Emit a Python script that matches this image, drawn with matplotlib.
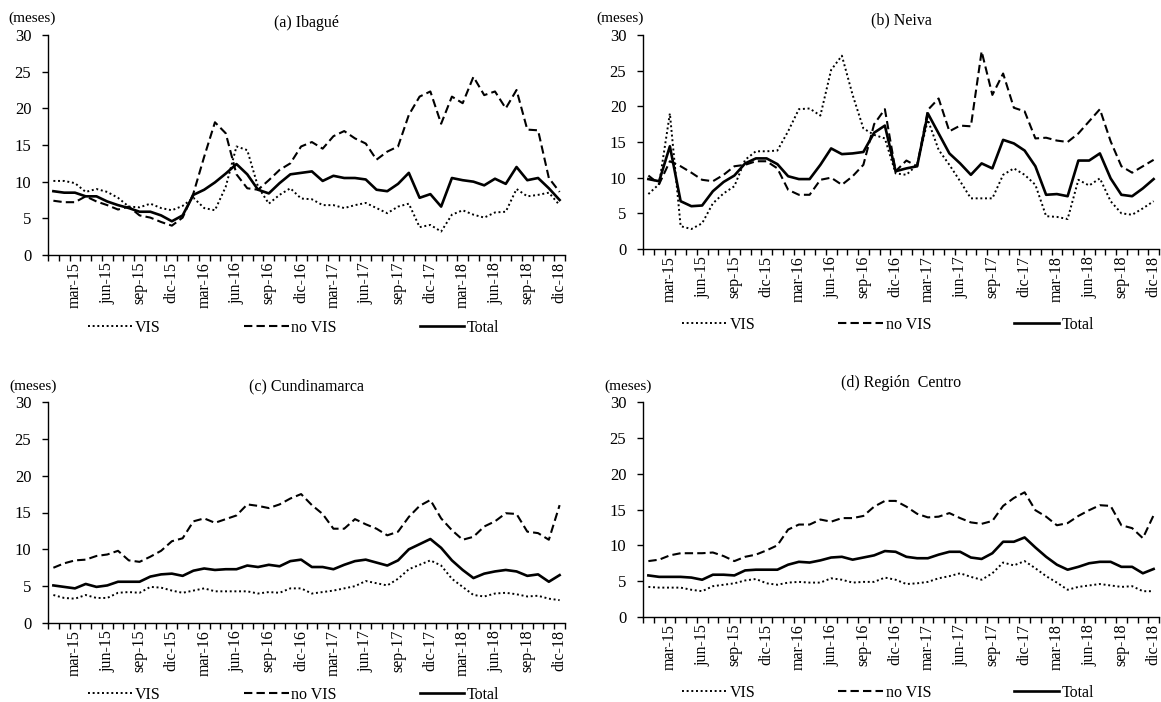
import numpy as np
import matplotlib.pyplot as plt

plt.rcParams['font.family'] = ['Liberation Serif', 'DejaVu Serif']

# meses ene-15 .. dic-18
mes = ['ene', 'feb', 'mar', 'abr', 'may', 'jun', 'jul', 'ago', 'sep', 'oct', 'nov', 'dic']
anios = ['15', '16', '17', '18']
periodos = [m + '-' + a for a in anios for m in mes]

# (a) Ibagué
ibague_vis = [10.1, 10.1, 9.8, 8.6, 9.0, 8.6, 7.8, 6.6, 6.5, 7.0,
              6.4, 6.1, 6.7, 7.8, 6.4, 6.1, 9.3, 14.8, 14.3, 9.3,
              7.0, 8.2, 9.1, 7.7, 7.6, 6.8, 6.8, 6.4, 6.8, 7.1,
              6.4, 5.7, 6.6, 7.0, 3.8, 4.1, 3.2, 5.5, 6.1, 5.5,
              5.1, 5.8, 5.9, 9.0, 8.0, 8.2, 8.5, 6.8]
ibague_novis = [7.4, 7.2, 7.2, 8.0, 7.3, 6.8, 6.2, 6.6, 5.4, 5.1,
                4.5, 4.0, 5.1, 8.4, 13.4, 18.1, 16.6, 11.0, 9.1, 8.9,
                10.2, 11.6, 12.5, 14.8, 15.4, 14.5, 16.2, 16.9, 15.9, 15.2,
                13.0, 14.1, 14.8, 19.1, 21.6, 22.3, 17.9, 21.6, 20.7, 24.3,
                21.8, 22.3, 20.0, 22.5, 17.1, 17.0, 10.5, 8.6]
ibague_total = [8.7, 8.5, 8.5, 8.0, 8.0, 7.3, 6.8, 6.4, 5.9, 5.9,
                5.4, 4.6, 5.4, 8.2, 8.9, 9.9, 11.1, 12.4, 11.0, 8.9,
                8.4, 9.8, 11.0, 11.2, 11.4, 10.1, 10.8, 10.5, 10.5, 10.3,
                8.9, 8.7, 9.7, 11.2, 7.8, 8.3, 6.6, 10.5, 10.2, 10.0,
                9.5, 10.4, 9.7, 12.0, 10.2, 10.5, 9.1, 7.5]

# (b) Neiva
neiva_vis = [7.7, 9.1, 19.0, 3.2, 2.8, 3.6, 6.4, 7.8, 8.8, 12.5,
             13.7, 13.7, 13.8, 16.5, 19.6, 19.7, 18.7, 25.1, 27.1, 21.6,
             16.9, 16.0, 15.5, 10.6, 10.4, 11.8, 18.1, 13.9, 11.8, 9.5,
             7.1, 7.1, 7.1, 10.4, 11.3, 10.4, 9.0, 4.6, 4.5, 4.2,
             9.7, 8.9, 9.9, 6.7, 5.0, 4.8, 5.7, 6.7]
neiva_novis = [10.3, 9.1, 12.3, 11.6, 10.7, 9.7, 9.5, 10.4, 11.6, 11.8,
               12.3, 12.3, 11.3, 8.3, 7.6, 7.6, 9.7, 10.0, 9.0, 10.2,
               11.8, 17.5, 19.6, 10.9, 12.4, 11.6, 19.5, 21.1, 16.5, 17.3,
               17.2, 27.7, 21.6, 24.6, 19.8, 19.3, 15.5, 15.6, 15.2, 15.0,
               16.2, 17.9, 19.6, 15.1, 11.6, 10.7, 11.6, 12.5]
neiva_total = [9.8, 9.5, 14.4, 6.7, 6.0, 6.1, 8.1, 9.4, 10.3, 12.0,
               12.7, 12.7, 11.9, 10.2, 9.8, 9.8, 11.8, 14.1, 13.3, 13.4,
               13.6, 16.3, 17.3, 10.9, 11.3, 11.6, 19.0, 16.2, 13.4, 12.0,
               10.4, 12.0, 11.3, 15.3, 14.8, 13.8, 11.6, 7.6, 7.7, 7.4,
               12.4, 12.4, 13.4, 9.9, 7.6, 7.4, 8.5, 9.8]

# (c) Cundinamarca
cund_vis = [3.8, 3.4, 3.3, 3.8, 3.4, 3.4, 4.1, 4.2, 4.1, 4.9,
            4.8, 4.4, 4.1, 4.4, 4.7, 4.3, 4.3, 4.3, 4.3, 4.0,
            4.2, 4.1, 4.7, 4.7, 4.0, 4.2, 4.4, 4.7, 5.0, 5.7,
            5.4, 5.1, 6.0, 7.3, 7.9, 8.5, 7.8, 6.0, 4.9, 3.8,
            3.6, 4.0, 4.1, 3.9, 3.6, 3.7, 3.3, 3.1]
cund_novis = [7.5, 8.1, 8.5, 8.6, 9.1, 9.3, 9.8, 8.5, 8.3, 9.0,
              9.8, 11.1, 11.5, 13.8, 14.2, 13.6, 14.1, 14.6, 16.1, 15.9,
              15.6, 16.1, 16.9, 17.5, 16.0, 14.8, 12.8, 12.8, 14.1, 13.4,
              12.8, 11.9, 12.4, 14.4, 15.9, 16.7, 14.2, 12.6, 11.3, 11.7,
              13.1, 13.8, 14.9, 14.8, 12.4, 12.2, 11.3, 16.0]
cund_total = [5.1, 4.9, 4.7, 5.3, 4.9, 5.1, 5.6, 5.6, 5.6, 6.3,
              6.6, 6.7, 6.4, 7.1, 7.4, 7.2, 7.3, 7.3, 7.8, 7.6,
              7.9, 7.7, 8.4, 8.6, 7.6, 7.6, 7.3, 7.9, 8.4, 8.6,
              8.2, 7.8, 8.5, 10.0, 10.7, 11.4, 10.2, 8.5, 7.2, 6.1,
              6.7, 7.0, 7.2, 7.0, 6.4, 6.6, 5.6, 6.5]

# (d) Región Centro
centro_vis = [4.2, 4.1, 4.1, 4.1, 3.8, 3.6, 4.3, 4.5, 4.7, 5.1,
              5.3, 4.7, 4.5, 4.8, 4.9, 4.8, 4.8, 5.4, 5.2, 4.8,
              4.9, 4.9, 5.5, 5.2, 4.6, 4.7, 4.9, 5.4, 5.7, 6.1,
              5.6, 5.2, 6.1, 7.6, 7.2, 7.8, 6.8, 5.7, 4.8, 3.8,
              4.2, 4.4, 4.6, 4.4, 4.2, 4.3, 3.6, 3.6]
centro_novis = [7.8, 8.0, 8.6, 8.9, 8.9, 8.9, 9.0, 8.5, 7.8, 8.4,
                8.7, 9.3, 10.0, 12.2, 12.9, 12.9, 13.6, 13.3, 13.8, 13.8,
                14.1, 15.4, 16.2, 16.2, 15.4, 14.4, 13.9, 14.0, 14.5, 13.8,
                13.2, 13.0, 13.4, 15.5, 16.6, 17.4, 14.9, 14.0, 12.8, 13.1,
                14.1, 14.9, 15.6, 15.5, 12.8, 12.4, 11.0, 14.2]
centro_total = [5.8, 5.6, 5.6, 5.6, 5.5, 5.2, 5.9, 5.9, 5.8, 6.5,
                6.6, 6.6, 6.6, 7.3, 7.7, 7.6, 7.9, 8.3, 8.4, 8.0,
                8.3, 8.6, 9.2, 9.1, 8.4, 8.2, 8.2, 8.7, 9.1, 9.1,
                8.3, 8.1, 8.9, 10.5, 10.5, 11.1, 9.7, 8.4, 7.3, 6.6,
                7.0, 7.5, 7.7, 7.7, 7.0, 7.0, 6.1, 6.7]

paneles = [
    ('(a) Ibagué', ibague_vis, ibague_novis, ibague_total),
    ('(b) Neiva', neiva_vis, neiva_novis, neiva_total),
    ('(c) Cundinamarca', cund_vis, cund_novis, cund_total),
    ('(d) Región  Centro', centro_vis, centro_novis, centro_total),
]

W, H = 1161, 702
# caja de cada panel en pixeles: izquierda, derecha, arriba, abajo
cajas = [(48, 565, 35, 255), (643, 1159, 35, 249),
         (48, 565, 402, 623), (643, 1159, 402, 617)]
meses_pos = [(8, 18), (596, 18), (9, 386), (604, 386)]
titulo_y = [23, 20, 386, 383]
leyenda_y = [328, 325, 695, 693]

fig = plt.figure(figsize=(W / 100, H / 100), dpi=100)
x = np.arange(len(periodos))
etiq_idx = np.arange(2, len(periodos), 3)

for k, (titulo, vis, novis, total) in enumerate(paneles):
    l, r, t, b = cajas[k]
    alto = b - t
    ancho = r - l
    ax = fig.add_axes([l / W, 1 - b / H, ancho / W, alto / H])
    ax.plot(x, vis, color='black', lw=1.4, ls=(0, (1, 1.4)), label='VIS')
    ax.plot(x, novis, color='black', lw=1.5, ls=(0, (4, 2)), label='no VIS')
    ax.plot(x, total, color='black', lw=1.9, ls='-', label='Total')

    ax.set_xlim(-0.5, len(periodos) - 0.5)
    ax.set_ylim(0, 30)
    ax.set_yticks(range(0, 31, 5))
    ax.set_xticks(np.arange(-0.5, len(periodos), 1))
    ax.set_xticklabels([])
    ax.set_xticks(etiq_idx, minor=True)
    ax.set_xticklabels([periodos[i] for i in etiq_idx], minor=True,
                       rotation=90, fontsize=11.5)
    ax.tick_params(axis='x', which='major', direction='out', length=4, width=1)
    ax.tick_params(axis='x', which='minor', length=0, pad=5)
    ax.tick_params(axis='y', direction='out', length=4, width=1, pad=8,
                   labelsize=12)
    for s in ['top', 'right']:
        ax.spines[s].set_visible(False)
    for s in ['left', 'bottom']:
        ax.spines[s].set_linewidth(1)

    ax.text(0.5, (b - titulo_y[k]) / alto, titulo, transform=ax.transAxes,
            ha='center', va='center', fontsize=11.5)
    mx, my = meses_pos[k]
    ax.text((mx - l) / ancho, (b - my) / alto, '(meses)',
            transform=ax.transAxes, ha='left', va='center', fontsize=11)
    ax.legend(loc='center', bbox_to_anchor=(0.475, (b - leyenda_y[k]) / alto),
              ncol=3, frameon=False, fontsize=11.5, handlelength=2.8,
              handletextpad=0.15, columnspacing=5.2)

fig.savefig('out.png', dpi=100)
